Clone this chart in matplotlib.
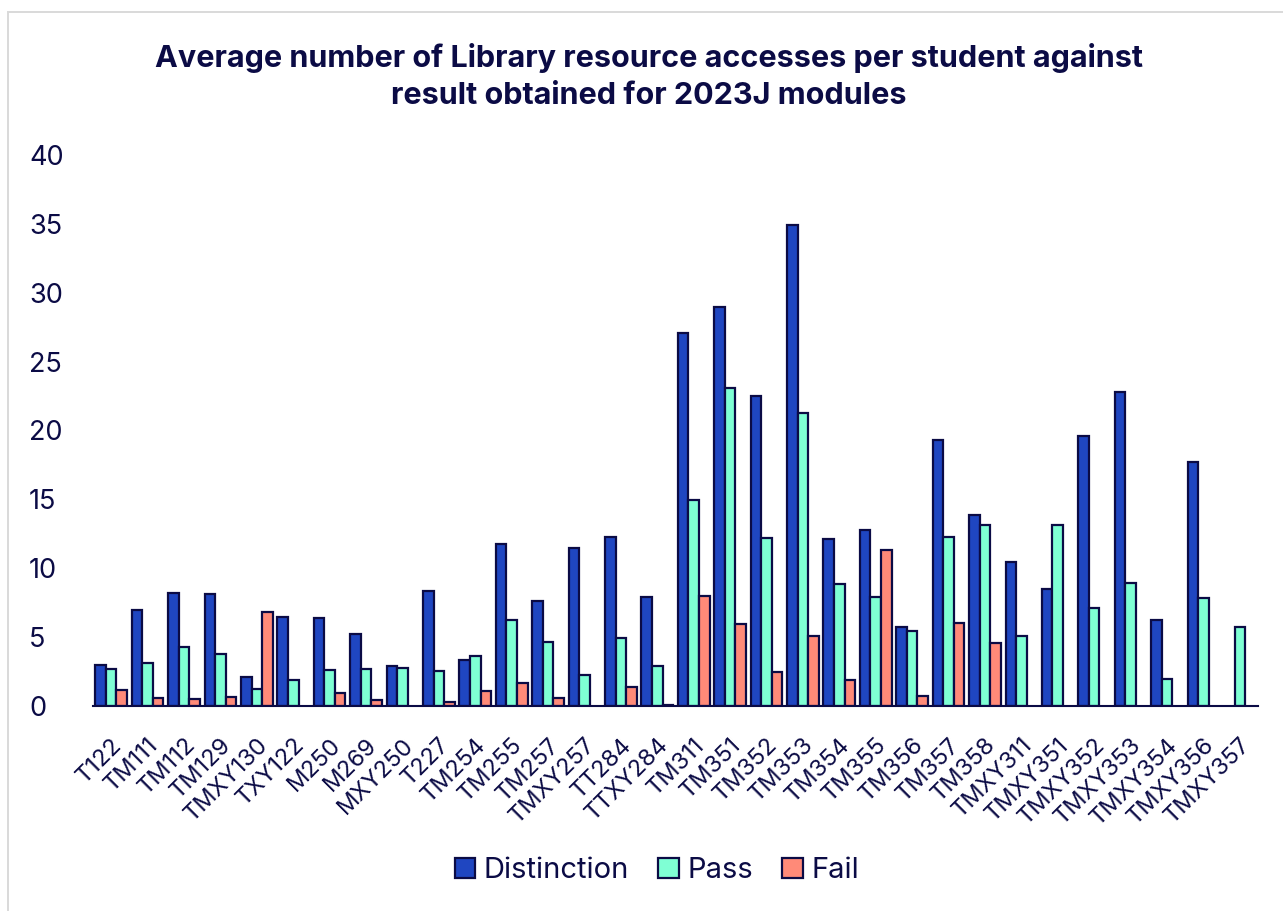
import numpy as np
import matplotlib
matplotlib.use("Agg")
import matplotlib.pyplot as plt
from matplotlib.patches import Rectangle

# module codes for 2023J
modules = ["T122", "TM111", "TM112", "TM129", "TMXY130", "TXY122", "M250", "M269",
           "MXY250", "T227", "TM254", "TM255", "TM257", "TMXY257", "TT284", "TTXY284",
           "TM311", "TM351", "TM352", "TM353", "TM354", "TM355", "TM356", "TM357",
           "TM358", "TMXY311", "TMXY351", "TMXY352", "TMXY353", "TMXY354", "TMXY356", "TMXY357"]

# average library accesses per student (0 = no bar)
distinction = [2.97, 6.97, 8.18, 8.15, 2.08, 6.48, 6.39, 5.22,
               2.93, 8.32, 3.32, 11.76, 7.62, 11.47, 12.26, 7.89,
               27.05, 28.98, 22.5, 34.9, 12.1, 12.8, 5.73, 19.3,
               13.86, 10.45, 8.47, 19.6, 22.79, 6.22, 17.7, 0]
passed = [2.7, 3.14, 4.26, 3.75, 1.26, 1.91, 2.61, 2.71,
          2.78, 2.56, 3.65, 6.26, 4.67, 2.23, 4.96, 2.92,
          14.93, 23.1, 12.19, 21.24, 8.88, 7.91, 5.47, 12.26,
          13.14, 5.1, 13.16, 7.11, 8.95, 1.98, 7.84, 5.71]
fail = [1.15, 0.58, 0.51, 0.65, 6.8, 0, 0.97, 0.46,
        0, 0.27, 1.11, 1.67, 0.56, 0, 1.4, 0.1,
        8.0, 5.95, 2.49, 5.08, 1.91, 11.3, 0.7, 6.02,
        4.55, 0, 0, 0, 0, 0, 0, 0]

navy = "#0b0b45"
plt.rcParams['font.family'] = ['Inter', 'DejaVu Sans']

fig = plt.figure(figsize=(12.83, 9.11), dpi=100)
fig.patches.append(Rectangle((0.006, -0.1), 1.2, 1.087, transform=fig.transFigure,
                             fill=False, edgecolor="#d9d9d9", linewidth=1.4))
ax = fig.add_axes([0.0725, 0.225, 0.908, 0.605])

x = np.arange(len(modules))
w = 0.29
kw = dict(edgecolor=navy, linewidth=1.6)
# zeros are left out so that no empty outline is drawn
nz = lambda vals: [v if v > 0 else np.nan for v in vals]
ax.bar(x - w, nz(distinction), w, color="#1f46c1", label="Distinction", **kw)
ax.bar(x, nz(passed), w, color="#7fffd4", label="Pass", **kw)
ax.bar(x + w, nz(fail), w, color="#ff8a78", label="Fail", **kw)

ax.set_xlim(-0.5, len(modules) - 0.5)
ax.set_ylim(0, 40)
ax.set_yticks(range(0, 41, 5))
ax.set_xticks(x)
ax.set_xticklabels(modules, rotation=45, ha="right", rotation_mode="anchor", fontsize=17, color=navy)
ax.tick_params(axis="y", length=0, labelsize=19.5, labelcolor=navy, pad=46)
ax.tick_params(axis="x", length=0, pad=20)
for s in ["top", "right", "left"]:
    ax.spines[s].set_visible(False)
ax.spines["bottom"].set_color(navy)
ax.spines["bottom"].set_linewidth(1.5)
for lab in ax.get_yticklabels():
    lab.set_horizontalalignment("left")

fig.text(0.506, 0.916, "Average number of Library resource accesses per student against\nresult obtained for 2023J modules",
         ha="center", va="center", fontsize=22, fontweight="bold", color=navy, linespacing=1.4)

fig.legend(loc="center", bbox_to_anchor=(0.512, 0.044), ncol=3, frameon=False, fontsize=21,
           handlelength=0.7, handleheight=0.7, columnspacing=1.0, handletextpad=0.3,
           labelcolor=navy)

fig.savefig("out.png", dpi=100)
